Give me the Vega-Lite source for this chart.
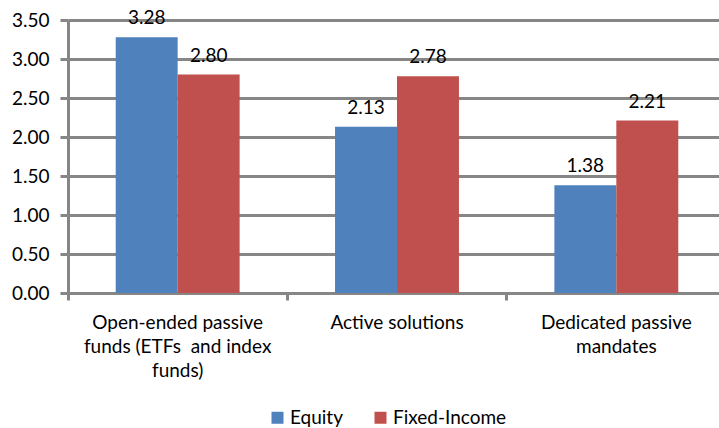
{
  "$schema": "https://vega.github.io/schema/vega-lite/v6.json",
  "width": 651,
  "height": 273,
  "autosize": {"type": "none"},
  "padding": {"left": 68, "top": 20, "right": 0, "bottom": 135},
  "config": {
    "font": "Lato",
    "view": {"stroke": null},
    "legend": {"padding": 0},
    "axis": {"gridColor": "#868686", "gridOpacity": 1, "gridWidth": 3}
  },
  "data": {
    "values": [
      {"category": "Open-ended passive|funds (ETFs\u00a0 and index|funds)", "series": "Equity", "value": 3.28},
      {"category": "Open-ended passive|funds (ETFs\u00a0 and index|funds)", "series": "Fixed-Income", "value": 2.80},
      {"category": "Active solutions", "series": "Equity", "value": 2.13},
      {"category": "Active solutions", "series": "Fixed-Income", "value": 2.78},
      {"category": "Dedicated passive|mandates", "series": "Equity", "value": 1.38},
      {"category": "Dedicated passive|mandates", "series": "Fixed-Income", "value": 2.21}
    ]
  },
  "encoding": {
    "y": {
      "field": "value", "type": "quantitative",
      "scale": {"domain": [0, 3.5], "nice": false},
      "axis": {
        "title": null, "values": [0, 0.5, 1, 1.5, 2, 2.5, 3, 3.5], "format": ".2f",
        "labelOverlap": false, "grid": true,
        "gridColor": "#868686", "gridWidth": 3, "gridOpacity": 1,
        "domainColor": "#868686", "domainWidth": 3,
        "tickColor": "#868686", "tickWidth": 3, "tickSize": 8,
        "labelFontSize": 19, "labelPadding": 11, "labelColor": "#000000"
      }
    },
    "xOffset": {
      "field": "series", "type": "nominal", "sort": ["Equity", "Fixed-Income"],
      "scale": {"paddingInner": 0, "paddingOuter": 0.77}
    }
  },
  "layer": [
    {
      "mark": {"type": "bar"},
      "encoding": {
        "x": {
          "field": "category", "type": "nominal", "sort": null,
          "scale": {"paddingInner": 0, "paddingOuter": 0, "range": [0, 658]},
          "axis": {
            "orient": "bottom", "title": null, "ticks": false, "labelAngle": 0,
            "labelExpr": "split(datum.value, '|')",
            "labelFontSize": 19, "labelColor": "#000000", "labelPadding": 20,
            "labelLineHeight": 24, "labelBaseline": "top", "labelLimit": 0,
            "domainColor": "#868686", "domainWidth": 3
          }
        },
        "color": {
          "field": "series", "type": "nominal", "sort": ["Equity", "Fixed-Income"],
          "scale": {"range": ["#4F81BD", "#C0504D"]},
          "legend": {
            "title": null, "orient": "none", "legendX": 200, "legendY": 388,
            "direction": "horizontal", "symbolType": "square", "symbolSize": 144,
            "symbolStrokeWidth": 0, "labelFontSize": 19, "labelColor": "#000000",
            "columnPadding": 28, "labelOffset": 3, "labelLimit": 0
          }
        }
      }
    },
    {
      "mark": {"type": "text", "dy": -13, "baseline": "alphabetic", "fontSize": 19, "color": "#000000"},
      "encoding": {
        "x": {
          "field": "category", "type": "nominal", "sort": null,
          "axis": {
            "orient": "bottom", "title": null, "labels": false, "domain": false,
            "ticks": true, "bandPosition": 0, "tickSize": 7, "tickColor": "#868686", "tickWidth": 3,
            "grid": false
          }
        },
        "text": {"field": "value", "type": "quantitative", "format": ".2f"}
      }
    }
  ],
  "resolve": {"axis": {"x": "independent"}}
}
